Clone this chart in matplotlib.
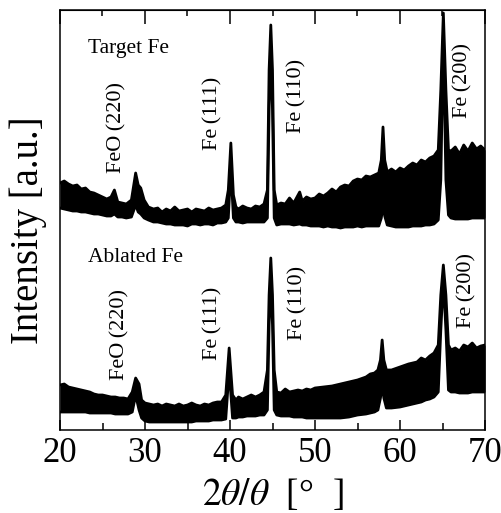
import matplotlib.pyplot as plt
from matplotlib.ticker import MultipleLocator

plt.rcParams['font.family'] = ['Liberation Serif', 'DejaVu Serif']
plt.rcParams['mathtext.fontset'] = 'stix'

# Target Fe (upper trace): 2theta, upper and lower edge of the noisy band
target_x = [20.0, 20.5, 21.0, 21.5, 22.0, 22.5, 23.0, 23.5, 24.0, 24.5,
            25.0, 25.5, 26.0, 26.4, 26.8, 27.3, 27.8, 28.4, 28.9, 29.2,
            29.5, 29.9, 30.4, 31.0, 31.5, 32.0, 32.5, 33.0, 33.5, 34.0,
            34.5, 35.0, 35.5, 36.0, 36.5, 37.0, 37.5, 38.0, 38.5, 39.0,
            39.5, 39.8, 40.1, 40.4, 40.7, 41.0, 41.5, 42.0, 42.5, 43.0,
            43.5, 44.0, 44.4, 44.6, 44.8, 45.0, 45.2, 45.5, 46.0, 46.5,
            47.0, 47.5, 48.2, 48.5, 49.0, 49.5, 50.0, 50.5, 51.0, 51.5,
            52.0, 52.5, 53.0, 53.5, 54.0, 54.5, 55.0, 55.5, 56.0, 56.5,
            57.0, 57.5, 57.8, 58.0, 58.2, 58.5, 59.0, 59.5, 60.0, 60.5,
            61.0, 61.5, 62.0, 62.5, 63.0, 63.5, 64.0, 64.5, 64.8, 65.1,
            65.4, 65.7, 66.0, 66.5, 67.0, 67.5, 68.0, 68.5, 69.0, 69.5, 70.0]
target_hi = [247, 249, 246, 244, 245, 241, 242, 238, 237, 235,
             233, 231, 233, 240, 228, 227, 226, 230, 257, 245,
             242, 230, 223, 221, 222, 218, 221, 219, 223, 219,
             220, 221, 218, 221, 220, 219, 222, 220, 221, 222,
             225, 240, 287, 235, 223, 221, 224, 222, 221, 224,
             223, 226, 240, 360, 405, 360, 240, 225, 227, 226,
             232, 227, 238, 229, 233, 231, 232, 236, 234, 237,
             241, 238, 243, 245, 244, 249, 251, 250, 254, 253,
             255, 257, 270, 303, 270, 258, 261, 258, 262, 260,
             264, 267, 265, 270, 268, 272, 274, 280, 340, 417,
             340, 280, 279, 283, 276, 285, 279, 287, 281, 284, 280]
target_lo = [222, 221, 220, 219, 219, 218, 218, 217, 216, 216,
             215, 214, 214, 216, 213, 213, 212, 213, 225, 218,
             216, 212, 210, 208, 208, 207, 206, 206, 205, 205,
             205, 204, 206, 206, 205, 206, 206, 205, 207, 207,
             208, 212, 262, 212, 208, 208, 207, 208, 208, 208,
             208, 208, 212, 320, 380, 320, 212, 205, 206, 206,
             206, 205, 206, 205, 205, 204, 204, 204, 203, 204,
             203, 203, 202, 203, 203, 203, 204, 203, 204, 204,
             204, 204, 212, 225, 214, 205, 204, 203, 203, 203,
             203, 204, 204, 204, 205, 205, 206, 210, 250, 395,
             250, 215, 212, 211, 211, 211, 211, 212, 212, 212, 212]

# Ablated Fe (lower trace)
ablated_x = [20.0, 20.5, 21.0, 21.5, 22.0, 22.5, 23.0, 23.5, 24.0, 24.5,
             25.0, 25.5, 26.0, 26.5, 27.0, 27.5, 28.0, 28.5, 28.9, 29.3,
             29.6, 30.0, 30.5, 31.0, 31.5, 32.0, 32.5, 33.0, 33.5, 34.0,
             34.5, 35.0, 35.5, 36.0, 36.5, 37.0, 37.5, 38.0, 38.5, 39.0,
             39.5, 39.9, 40.3, 40.7, 41.0, 41.5, 42.0, 42.5, 43.0, 43.5,
             44.0, 44.4, 44.6, 44.8, 45.0, 45.2, 45.5, 46.0, 46.5, 47.0,
             47.5, 48.0, 48.5, 49.0, 49.5, 50.0, 51.0, 52.0, 53.0, 54.0,
             55.0, 56.0, 56.5, 57.0, 57.4, 57.7, 57.9, 58.1, 58.4, 59.0,
             60.0, 61.0, 62.0, 62.5, 63.0, 63.5, 64.0, 64.5, 64.8, 65.1,
             65.4, 65.7, 66.0, 66.5, 67.0, 67.5, 68.0, 68.5, 69.0, 69.5, 70.0]
ablated_hi = [45, 46, 43, 42, 41, 40, 39, 38, 36, 35,
              35, 34, 33, 33, 32, 32, 31, 38, 52, 46,
              30, 27, 26, 25, 26, 24, 26, 25, 24, 26,
              24, 25, 27, 25, 24, 26, 25, 27, 28, 28,
              35, 82, 35, 30, 33, 31, 33, 35, 33, 35,
              38, 60, 135, 172, 135, 60, 38, 37, 41, 38,
              39, 40, 39, 41, 40, 42, 43, 44, 46, 48,
              50, 53, 56, 57, 60, 70, 90, 70, 60, 60,
              63, 66, 68, 72, 70, 74, 77, 85, 135, 165,
              135, 85, 80, 82, 79, 85, 83, 87, 82, 84, 85]
ablated_lo = [18, 18, 18, 18, 18, 18, 18, 17, 17, 17,
              17, 17, 17, 16, 16, 16, 16, 18, 35, 20,
              12, 9, 8, 8, 8, 8, 8, 8, 8, 8,
              8, 8, 8, 9, 9, 9, 9, 10, 10, 10,
              11, 60, 12, 12, 13, 13, 14, 14, 14, 15,
              15, 20, 105, 150, 105, 20, 15, 14, 14, 14,
              13, 13, 13, 12, 12, 12, 12, 12, 12, 13,
              15, 16, 17, 18, 20, 32, 45, 32, 22, 22,
              23, 25, 27, 28, 30, 31, 33, 38, 100, 150,
              100, 40, 38, 38, 37, 37, 37, 38, 38, 38, 38]

peak_labels = ['FeO\u2009(220)', 'Fe\u2009(111)', 'Fe\u2009(110)', 'Fe\u2009(200)']
target_label_x = [26.7, 38.0, 47.9, 67.4]
target_label_y = [257, 280, 297, 312]
ablated_label_x = [27.1, 38.0, 48.0, 67.9]
ablated_label_y = [50, 70, 90, 102]

fig = plt.figure(figsize=(5.01, 5.13), dpi=100)
ax = fig.add_axes([60 / 501, 83 / 513, 425 / 501, 420 / 513])

for xs, hi, lo in [(target_x, target_hi, target_lo), (ablated_x, ablated_hi, ablated_lo)]:
    ax.fill_between(xs, lo, hi, color='black', lw=0)
    ax.plot(xs, hi, color='black', lw=2)
    ax.plot(xs, lo, color='black', lw=2)

ax.text(23.3, 377, 'Target Fe', fontsize=15.5, va='baseline')
ax.text(23.3, 168, 'Ablated Fe', fontsize=15.5, va='baseline')
for lab, lx, ly in zip(peak_labels, target_label_x, target_label_y):
    ax.text(lx, ly, lab, rotation=90, fontsize=16, ha='center', va='bottom')
for lab, lx, ly in zip(peak_labels, ablated_label_x, ablated_label_y):
    ax.text(lx, ly, lab, rotation=90, fontsize=16, ha='center', va='bottom')

ax.set_xlim(20, 70)
ax.set_ylim(0, 420)
ax.set_yticks([])
ax.xaxis.set_major_locator(MultipleLocator(10))
ax.xaxis.set_minor_locator(MultipleLocator(5))
ax.tick_params(axis='x', which='major', direction='in', length=7.2, width=1.1,
               labelsize=25, pad=5)
ax.tick_params(axis='x', which='minor', direction='in', length=4.7, width=1.1)
for sp in ax.spines.values():
    sp.set_linewidth(1.1)

top = ax.secondary_xaxis('top')
top.xaxis.set_major_locator(MultipleLocator(10))
top.xaxis.set_minor_locator(MultipleLocator(5))
top.tick_params(which='major', direction='in', length=10, width=1.1, labeltop=False)
top.tick_params(which='minor', direction='in', length=4.3, width=1.1)

fig.text(272.5 / 501, 8 / 513, r'$2\theta/\theta$  [°  ]', fontsize=27,
         ha='center', va='baseline')
fig.text(28 / 501, 1 - 230 / 513, 'Intensity [a.u.]', fontsize=28,
         rotation=90, ha='center', va='center')

fig.savefig('out.png', dpi=100)
